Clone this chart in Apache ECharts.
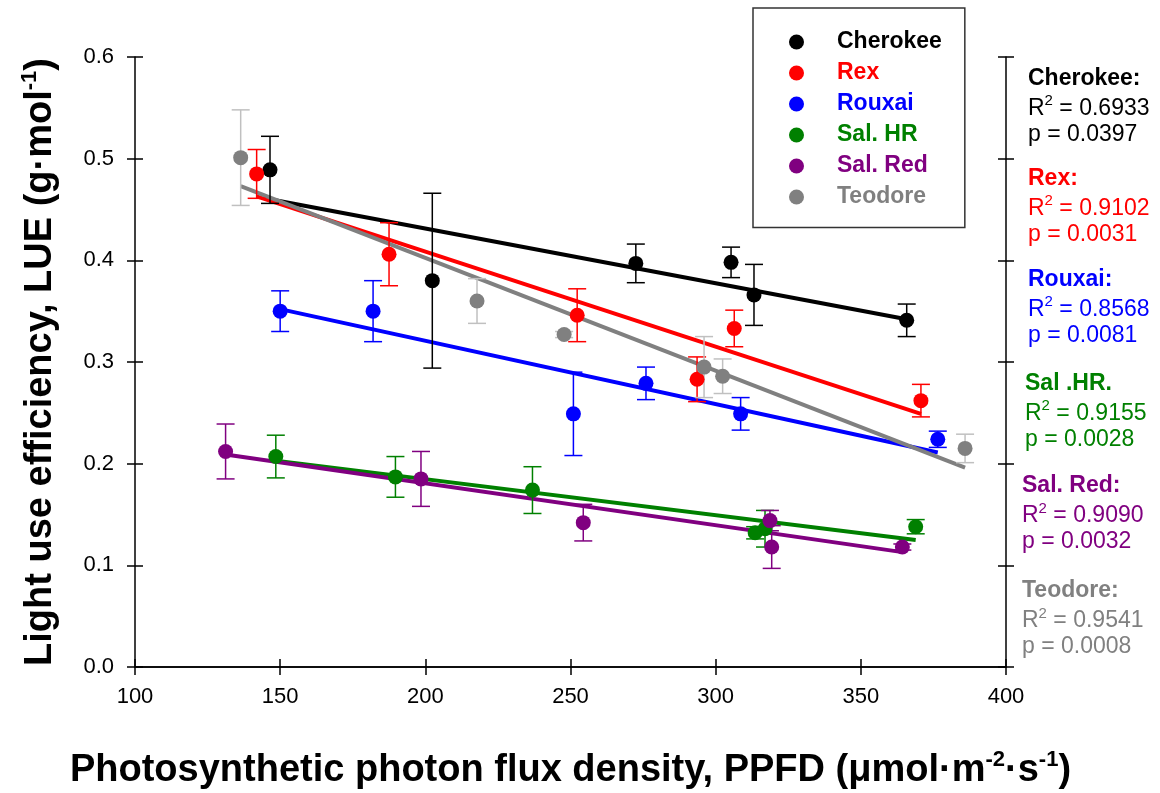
<!DOCTYPE html>
<html><head><meta charset="utf-8">
<script src="https://cdn.jsdelivr.net/npm/echarts@6/dist/echarts.min.js"></script>
<style>html,body{margin:0;padding:0;background:#fff}#c{width:1160px;height:793px}</style>
</head><body><div id="c"></div>
<script>
const names = ['Cherokee','Rex','Rouxai','Sal. HR','Sal. Red','Teodore'];
const colors = ['#000000','#ff0000','#0000ff','#008000','#800080','#808080'];
const errColors = ['#000000','#ff0000','#0000ff','#008000','#800080','#c0c0c0'];

const cherokeeX = [146.5, 202.4, 272.5, 305.3, 313.2, 365.8];
const cherokeeY = [0.489, 0.380, 0.397, 0.398, 0.366, 0.341];
const cherokeeErr = [0.033, 0.086, 0.019, 0.015, 0.030, 0.016];

const rexX = [141.9, 187.5, 252.3, 293.6, 306.4, 370.7];
const rexY = [0.485, 0.406, 0.346, 0.283, 0.333, 0.262];
const rexErr = [0.024, 0.031, 0.026, 0.022, 0.018, 0.016];

const rouxaiX = [150.0, 182.0, 251.0, 276.0, 308.6, 376.5];
const rouxaiY = [0.350, 0.350, 0.249, 0.279, 0.249, 0.224];
const rouxaiErr = [0.020, 0.030, 0.041, 0.016, 0.016, 0.008];

const salHRX = [148.5, 189.7, 236.9, 313.6, 317.0, 368.9];
const salHRY = [0.207, 0.187, 0.174, 0.132, 0.136, 0.138];
const salHRErr = [0.021, 0.020, 0.023, 0.006, 0.018, 0.007];

const salRedX = [131.2, 198.5, 254.4, 318.7, 319.3, 364.3];
const salRedY = [0.212, 0.185, 0.142, 0.144, 0.118, 0.118];
const salRedErr = [0.027, 0.027, 0.018, 0.010, 0.021, 0.003];

const teodoreX = [136.4, 217.8, 247.8, 296.0, 302.4, 385.9];
const teodoreY = [0.501, 0.360, 0.327, 0.295, 0.286, 0.215];
const teodoreErr = [0.047, 0.022, 0.003, 0.030, 0.017, 0.014];

// regression line end points
const cherokeeFit = [[146.5, 0.460], [365.8, 0.342]];
const rexFit = [[141.9, 0.463], [370.7, 0.249]];
const rouxaiFit = [[150.0, 0.352], [376.5, 0.211]];
const salHRFit = [[148.5, 0.203], [368.9, 0.125]];
const salRedFit = [[131.2, 0.209], [364.3, 0.113]];
const teodoreFit = [[136.4, 0.473], [385.9, 0.196]];

const statTitles = ['Cherokee:', 'Rex:', 'Rouxai:', 'Sal .HR.', 'Sal. Red:', 'Teodore:'];
const statR2 = ['0.6933', '0.9102', '0.8568', '0.9155', '0.9090', '0.9541'];
const statP = ['0.0397', '0.0031', '0.0081', '0.0028', '0.0032', '0.0008'];

const xTicks = [100, 150, 200, 250, 300, 350, 400];
const yTicks = [0.0, 0.1, 0.2, 0.3, 0.4, 0.5, 0.6];

const groups = [
  [cherokeeX, cherokeeY, cherokeeErr, cherokeeFit],
  [rexX, rexY, rexErr, rexFit],
  [rouxaiX, rouxaiY, rouxaiErr, rouxaiFit],
  [salHRX, salHRY, salHRErr, salHRFit],
  [salRedX, salRedY, salRedErr, salRedFit],
  [teodoreX, teodoreY, teodoreErr, teodoreFit]
];

const FONT = "'Liberation Sans', Arial, sans-serif";

function errRender(color) {
  return function (params, api) {
    const x = api.value(0), y = api.value(1), e = api.value(2);
    const t = api.coord([x, y + e]);
    const b = api.coord([x, y - e]);
    const hw = 9;
    const st = { stroke: color, lineWidth: 1.5 };
    return { type: 'group', children: [
      { type: 'line', shape: { x1: t[0], y1: t[1], x2: b[0], y2: b[1] }, style: st },
      { type: 'line', shape: { x1: t[0] - hw, y1: t[1], x2: t[0] + hw, y2: t[1] }, style: st },
      { type: 'line', shape: { x1: b[0] - hw, y1: b[1], x2: b[0] + hw, y2: b[1] }, style: st }
    ]};
  };
}

const series = [];
groups.forEach((g, i) => {
  series.push({
    name: names[i] + ' fit', type: 'line', data: g[3], symbol: 'none',
    lineStyle: { color: colors[i], width: 4 }, z: 2, silent: true
  });
});
groups.forEach((g, i) => {
  series.push({
    name: names[i] + ' err', type: 'custom', renderItem: errRender(errColors[i]),
    data: g[0].map((x, k) => [x, g[1][k], g[2][k]]), z: 3, silent: true
  });
});
groups.forEach((g, i) => {
  series.push({
    name: names[i], type: 'scatter', symbol: 'circle', symbolSize: 15,
    itemStyle: { color: colors[i], opacity: 1 },
    data: g[0].map((x, k) => [x, g[1][k]]), z: 4
  });
});

const axisLine = { show: true, lineStyle: { color: '#000', width: 1.5 } };
const tickStyle = { color: '#000', width: 1.5 };
function xAx(pos, inside, labels, line) {
  return {
    type: 'value', position: pos, min: 100, max: 400, interval: 50,
    axisLine: line ? axisLine : { show: false },
    axisTick: { show: true, inside: inside, length: 8, lineStyle: tickStyle },
    axisLabel: { show: labels, color: '#000', fontSize: 22, fontFamily: FONT, margin: 19,
      formatter: v => xTicks.includes(v) ? String(v) : '' },
    splitLine: { show: false }
  };
}
function yAx(pos, inside, labels, line) {
  return {
    type: 'value', position: pos, min: 0, max: 0.6, interval: 0.1,
    axisLine: line ? axisLine : { show: false },
    axisTick: { show: true, inside: inside, length: 8, lineStyle: tickStyle },
    axisLabel: { show: labels, color: '#000', fontSize: 22, fontFamily: FONT, margin: 21,
      formatter: v => yTicks.some(t => Math.abs(t - v) < 1e-9) ? v.toFixed(1) : '' },
    splitLine: { show: false }
  };
}

const xAxes = [xAx('bottom', false, true, true), xAx('bottom', true, false, false),
               xAx('top', true, false, true), xAx('top', false, false, false)];
const yAxes = [yAx('left', false, true, true), yAx('left', true, false, false),
               yAx('right', true, false, true), yAx('right', false, false, false)];

const titleRich = {
  a: { fontSize: 38, fontWeight: 'bold', fontFamily: FONT, color: '#000', lineHeight: 44 },
  s: { fontSize: 22, fontWeight: 'bold', fontFamily: FONT, color: '#000', verticalAlign: 'top', lineHeight: 44, padding: [0, 0, 16, 0] }
};
xAxes[0].name = '{a|Photosynthetic photon flux density, PPFD (μmol·m}{s|-2}{a|·s}{s|-1}{a|)}';
xAxes[0].nameLocation = 'middle';
xAxes[0].nameGap = 82;
xAxes[0].nameTextStyle = { rich: titleRich };
yAxes[0].name = '{a|Light use efficiency, LUE (g·mol}{s|-1}{a|)}';
yAxes[0].nameLocation = 'middle';
yAxes[0].nameGap = 72;
yAxes[0].nameTextStyle = { rich: titleRich };

const statTop = [79.8, 179.8, 280.8, 385.2, 487.5, 592.5];
const statLeft = [1028, 1028, 1028, 1025, 1022, 1022];
const graphics = [];
statTitles.forEach((t, i) => {
  const c = colors[i];
  graphics.push({ type: 'text', left: statLeft[i], top: statTop[i] - 13,
    style: { text: t, font: "bold 23px " + FONT, fill: c } });
  graphics.push({ type: 'text', left: statLeft[i], top: statTop[i] + 28.5 - 15,
    style: { text: '{a|R}{s|2}{a| = ' + statR2[i] + '}',
      rich: { a: { fontSize: 23, fontFamily: FONT, fill: c, color: c, lineHeight: 30 },
              s: { fontSize: 15, fontFamily: FONT, fill: c, color: c, lineHeight: 30, verticalAlign: 'top', padding: [0, 0, 12, 0] } } } });
  graphics.push({ type: 'text', left: statLeft[i], top: statTop[i] + 56 - 13,
    style: { text: 'p = ' + statP[i], font: "23px " + FONT, fill: c } });
});

const chart = echarts.init(document.getElementById('c'), null, { renderer: 'canvas' });
chart.setOption({
  backgroundColor: '#fff',
  animation: false,
  grid: { left: 135, right: 154, top: 57, bottom: 126, containLabel: false, outerBoundsMode: 'none' },
  xAxis: xAxes,
  yAxis: yAxes,
  legend: {
    data: names.map((n, i) => ({ name: n, textStyle: { color: colors[i] } })),
    orient: 'vertical', left: 753, top: 8,
    padding: [22.5, 23, 19, 36],
    itemWidth: 15, itemHeight: 15, itemGap: 8, icon: 'circle',
    backgroundColor: '#fff', borderColor: '#333', borderWidth: 1.5, borderRadius: 0,
    textStyle: { fontSize: 23, fontWeight: 'bold', fontFamily: FONT, padding: [0, 0, 0, 28], lineHeight: 23 },
    z: 20, selectedMode: false
  },
  graphic: graphics,
  series: series
});
</script></body></html>
